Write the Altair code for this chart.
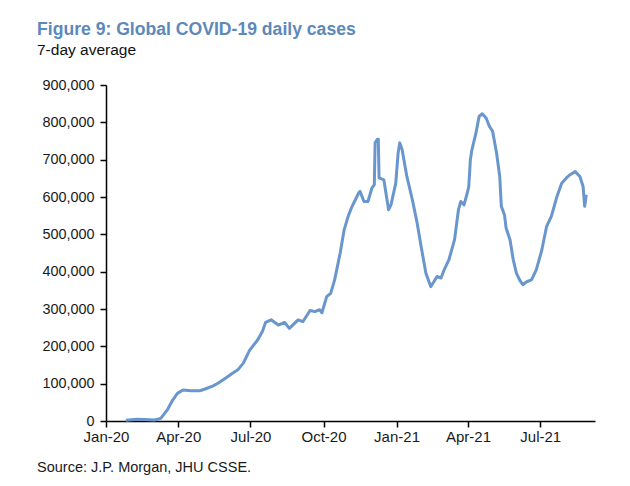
import altair as alt
import pandas as pd

dates = [
    "2020-01-26", "2020-02-09", "2020-02-18", "2020-03-02", "2020-03-10", "2020-03-18",
    "2020-03-25", "2020-03-31", "2020-04-07", "2020-04-17", "2020-04-28", "2020-05-04",
    "2020-05-15", "2020-05-21", "2020-05-30", "2020-06-07", "2020-06-15", "2020-06-22",
    "2020-06-30", "2020-07-10", "2020-07-16", "2020-07-20", "2020-07-27", "2020-08-05",
    "2020-08-13", "2020-08-19", "2020-08-30", "2020-09-05", "2020-09-14", "2020-09-20",
    "2020-09-26", "2020-09-29", "2020-10-05", "2020-10-10", "2020-10-15", "2020-10-22",
    "2020-10-27", "2020-11-01", "2020-11-05", "2020-11-10", "2020-11-14", "2020-11-16",
    "2020-11-21", "2020-11-26", "2020-12-01", "2020-12-04", "2020-12-05", "2020-12-08",
    "2020-12-09", "2020-12-10", "2020-12-16", "2020-12-22", "2020-12-25", "2020-12-31",
    "2021-01-03", "2021-01-05", "2021-01-08", "2021-01-14", "2021-01-21", "2021-01-27",
    "2021-02-01", "2021-02-07", "2021-02-13", "2021-02-17", "2021-02-21", "2021-02-26",
    "2021-03-02", "2021-03-08", "2021-03-15", "2021-03-20", "2021-03-23", "2021-03-27",
    "2021-03-31", "2021-04-02", "2021-04-04", "2021-04-06", "2021-04-11", "2021-04-15",
    "2021-04-19", "2021-04-24", "2021-04-28", "2021-05-02", "2021-05-07", "2021-05-11",
    "2021-05-13", "2021-05-17", "2021-05-19", "2021-05-24", "2021-05-28", "2021-06-01",
    "2021-06-05", "2021-06-09", "2021-06-14", "2021-06-20", "2021-06-26", "2021-07-03",
    "2021-07-09", "2021-07-15", "2021-07-22", "2021-07-28", "2021-08-03", "2021-08-07",
    "2021-08-14", "2021-08-20", "2021-08-24", "2021-08-26", "2021-08-28",
]
cases = [
    2000, 5000, 4000, 2600, 7000, 29000,
    56000, 74000, 83000, 81000, 81000, 85000,
    94000, 101000, 114000, 126000, 137000, 155000,
    190000, 217000, 240000, 264000, 271000, 257000,
    264000, 248000, 271000, 266000, 296000, 293000,
    298000, 290000, 333000, 342000, 378000, 450000,
    512000, 548000, 570000, 592000, 610000, 615000,
    588000, 588000, 624000, 633000, 745000, 755000,
    755000, 651000, 646000, 566000, 579000, 637000,
    718000, 745000, 727000, 655000, 592000, 530000,
    467000, 396000, 360000, 373000, 387000, 383000,
    405000, 432000, 485000, 566000, 588000, 579000,
    610000, 628000, 700000, 727000, 771000, 816000,
    823000, 811000, 789000, 776000, 718000, 655000,
    575000, 552000, 517000, 485000, 432000, 396000,
    378000, 365000, 373000, 378000, 405000, 458000,
    521000, 548000, 601000, 637000, 651000, 659000,
    668000, 655000, 628000, 575000, 606000,
]

y_ticks = [0, 100000, 200000, 300000, 400000, 500000, 600000, 700000, 800000, 900000]
x_tick_months = [(2020, 1), (2020, 4), (2020, 7), (2020, 10), (2021, 1), (2021, 4), (2021, 7)]

title_text = "Figure 9: Global COVID-19 daily cases"
subtitle_text = "7-day average"
source_text = "Source: J.P. Morgan, JHU CSSE."

df = pd.DataFrame({"date": dates, "cases": cases})

W, H = 489, 336

x_vals = [alt.DateTime(year=y, month=m, date=1, utc=True) for y, m in x_tick_months]

line = alt.Chart(df).mark_line(color="#6896cd", strokeWidth=3, strokeJoin="round").encode(
    x=alt.X(
        "date:T",
        scale=alt.Scale(
            type="utc",
            domain=[alt.DateTime(year=2020, month=1, date=1, utc=True),
                    alt.DateTime(year=2021, month=9, date=8, utc=True)],
        ),
        axis=alt.Axis(
            values=x_vals, labelExpr="utcFormat(datum.value, '%b-%y')", title=None,
            grid=False, domainColor="#000", domainWidth=1.5, tickColor="#000",
            tickWidth=1.5, tickSize=6, labelPadding=2, labelFontSize=15,
            labelColor="#1a1a1a", labelFont="Liberation Sans", labelFlush=False,
        ),
    ),
    y=alt.Y(
        "cases:Q",
        scale=alt.Scale(domain=[0, 900000], nice=False),
        axis=alt.Axis(
            values=y_ticks, format=",d", title=None, grid=False,
            domainColor="#000", domainWidth=1.5, tickColor="#000", tickWidth=1.5,
            tickSize=6, labelPadding=6, labelFontSize=14.4, labelColor="#1a1a1a",
            labelFont="Liberation Sans",
        ),
    ),
)

source = alt.Chart(pd.DataFrame({"t": [source_text]})).mark_text(
    align="left", baseline="alphabetic", fontSize=14.5, font="Liberation Sans", color="#1a1a1a"
).encode(x=alt.value(-69), y=alt.value(H + 51), text="t:N")

chart = alt.layer(line, source).properties(
    width=W,
    height=H,
    autosize=alt.AutoSizeParams(type="none"),
    padding={"left": 98, "top": 77, "right": 27, "bottom": 57},
    title=alt.TitleParams(
        text=title_text,
        subtitle=subtitle_text,
        anchor="start",
        frame="group",
        dx=-69,
        offset=19,
        font="Liberation Sans",
        fontSize=17.6,
        fontWeight="bold",
        color="#5d88ba",
        subtitleFont="Liberation Sans",
        subtitleFontSize=15.5,
        subtitleColor="#111",
        subtitlePadding=4,
    ),
).configure_view(stroke=None)

chart.save("out.html", embed_options={"renderer": "svg", "actions": False})
